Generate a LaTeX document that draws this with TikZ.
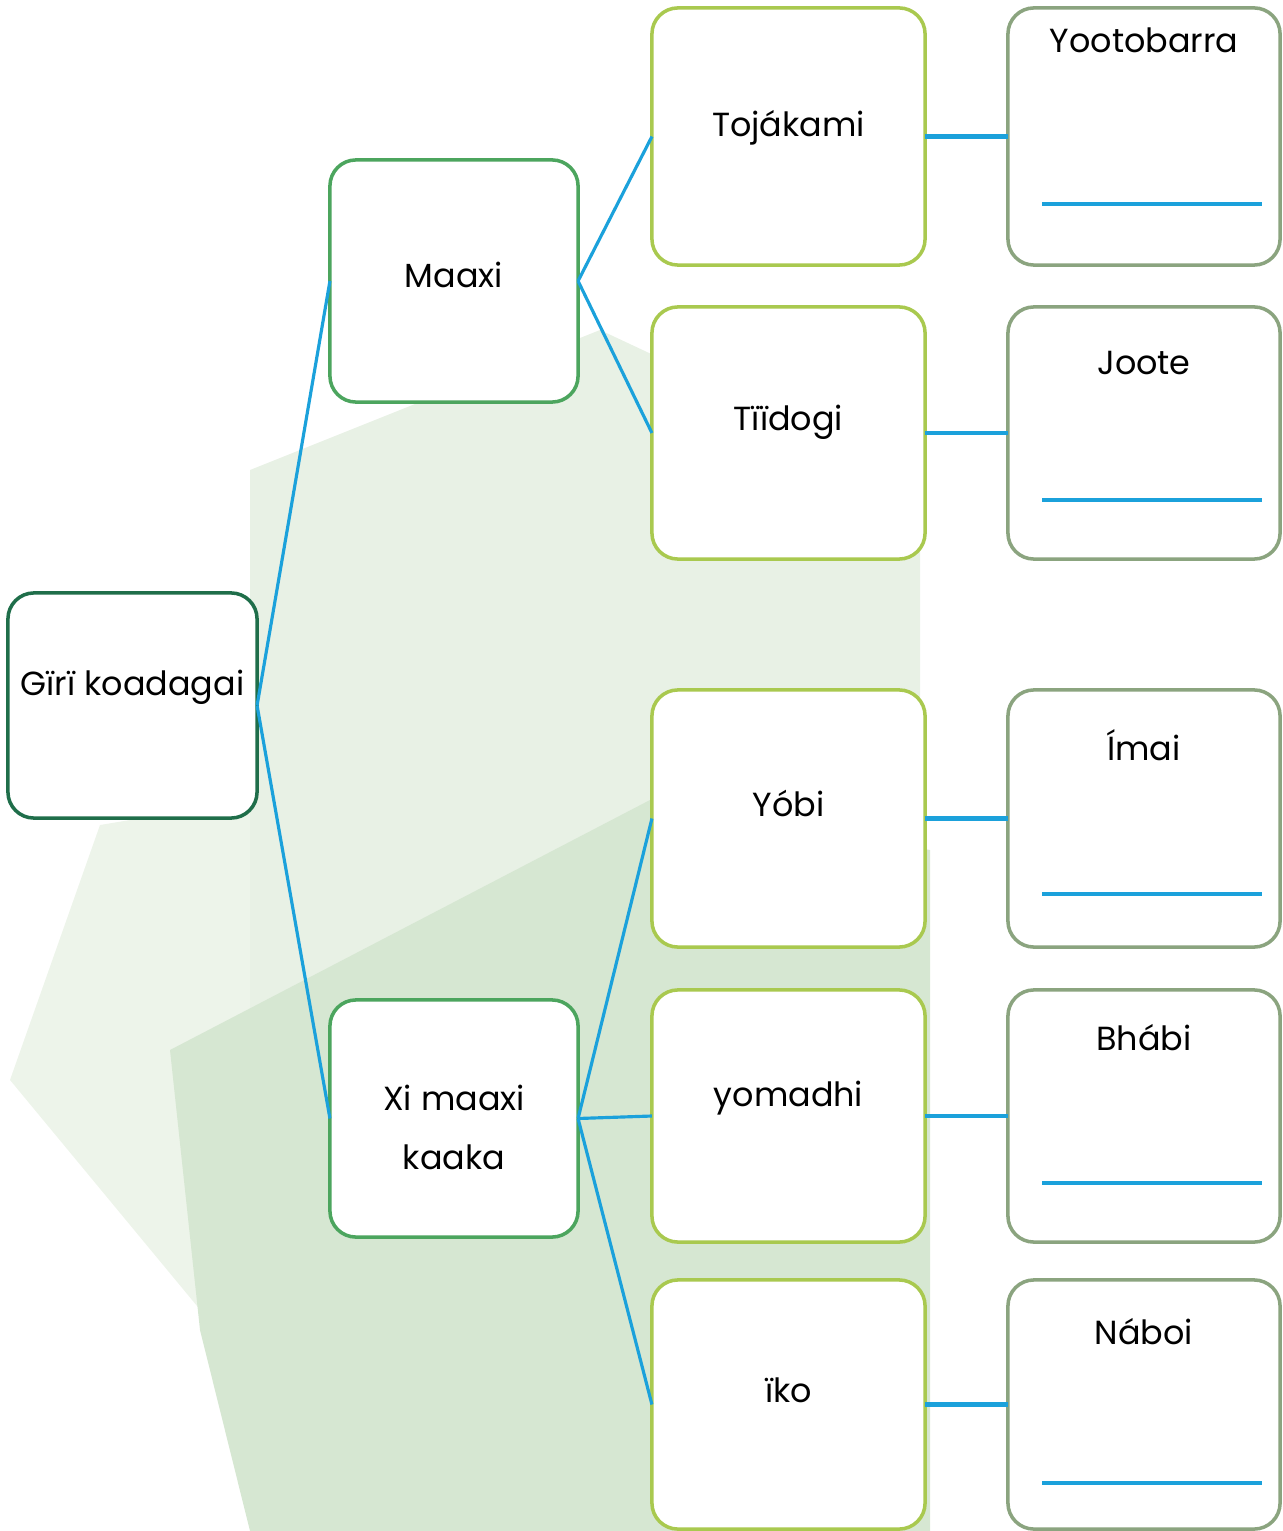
\documentclass[tikz,border=0pt]{standalone}
\usepackage{fontspec}
\setmainfont{Poppins}
\usepackage{tikz}
\definecolor{linkblue}{HTML}{1BA1DB}
\definecolor{rootgreen}{HTML}{1F6E4A}
\definecolor{midgreen}{HTML}{4CA55E}
\definecolor{leafgreen}{HTML}{A9C94F}
\definecolor{sagegreen}{HTML}{8BA47F}
\definecolor{palegreen}{HTML}{E8F1E5}
\definecolor{shadegreen}{HTML}{D6E7D2}

\begin{document}
\begin{tikzpicture}[x=0.01cm, y=-0.01cm,
  every node/.style={outer sep=0pt, font=\fontsize{9.5}{12}\selectfont},
  card/.style={draw, fill=white, line width=1pt, rounded corners=0.26cm, minimum width=#1},
  rootcard/.style={card=2.49cm, draw=rootgreen, minimum height=2.25cm},
  midcard/.style={card=2.48cm, draw=midgreen},
  leafcard/.style={card=2.73cm, draw=leafgreen},
  wordcard/.style={card=2.72cm, draw=sagegreen},
  link/.style={draw=linkblue, line width=0.9pt},
  bar/.style={draw=linkblue, line width=1.15pt}]
\useasboundingbox (0,0) rectangle (1283,1531);
\fill[palegreen] (250,470) -- (600,330) -- (920,480) -- (920,1531) -- (250,1531) -- cycle;
\fill[palegreen!80!white] (100,825) -- (250,800) -- (250,1370) -- (10,1080) -- cycle;
\fill[shadegreen] (170,1050) -- (650,800) -- (930,850) -- (930,1531) -- (250,1531) -- (200,1330) -- cycle;

\node[rootcard] (giri) at (132.5,705.5) {};
\node[midcard, minimum height=2.42cm] (maaxi) at (454,281) {};
\node[midcard, minimum height=2.37cm] (ximaaxi) at (454,1118.5) {};
\node[leafcard, minimum height=2.57cm] (tojakami) at (788.5,136.5) {};
\node[leafcard, minimum height=2.52cm] (tiidogi) at (788.5,433) {};
\node[leafcard, minimum height=2.57cm] (yobi) at (788.5,818.5) {};
\node[leafcard, minimum height=2.52cm] (yomadhi) at (788.5,1116) {};
\node[leafcard, minimum height=2.49cm] (iko) at (788.5,1404.5) {};
\node[wordcard, minimum height=2.57cm] (yootobarra) at (1144,136.5) {};
\node[wordcard, minimum height=2.52cm] (joote) at (1144,433) {};
\node[wordcard, minimum height=2.57cm] (imai) at (1144,818.5) {};
\node[wordcard, minimum height=2.52cm] (bhabi) at (1144,1116) {};
\node[wordcard, minimum height=2.49cm] (naboi) at (1144,1404.5) {};

\node (giritext) at (132.5,687) {Gïrï koadagai};
\node (maaxitext) at (454,275) {Maaxi};
\node[align=center, font=\fontsize{9.5}{16.8}\selectfont] (ximaaxitext) at (454,1127) {Xi maaxi\\kaaka};
\node (tojakamitext) at (788.5,128) {Tojákami};
\node (tiidogitext) at (788.5,422) {Tïïdogi};
\node (yobitext) at (788.5,803) {Yóbi};
\node (yomadhitext) at (788.5,1098) {yomadhi};
\node (ikotext) at (788.5,1390) {ïko};
\node (yootobarratext) at (1144,40) {Yootobarra};
\node (jootetext) at (1144,363) {Joote};
\node (imaitext) at (1144,745) {Ímai};
\node (bhabitext) at (1144,1038) {Bhábi};
\node (naboitext) at (1144,1332) {Náboi};

\draw[link] (giri.east) -- (maaxi.west);
\draw[link] (giri.east) -- (ximaaxi.west);
\draw[link] (maaxi.east) -- (tojakami.west);
\draw[link] (maaxi.east) -- (tiidogi.west);
\draw[link] (ximaaxi.east) -- (yobi.west);
\draw[link] (ximaaxi.east) -- (yomadhi.west);
\draw[link] (ximaaxi.east) -- (iko.west);
\draw[bar] (tojakami) -- (yootobarra);
\draw[bar] (tiidogi) -- (joote);
\draw[bar] (yobi) -- (imai);
\draw[bar] (yomadhi) -- (bhabi);
\draw[bar] (iko) -- (naboi);

\draw[bar] (1042,204) -- (1262,204);
\draw[bar] (1042,500) -- (1262,500);
\draw[bar] (1042,894) -- (1262,894);
\draw[bar] (1042,1183) -- (1262,1183);
\draw[bar] (1042,1483) -- (1262,1483);
\end{tikzpicture}
\end{document}
